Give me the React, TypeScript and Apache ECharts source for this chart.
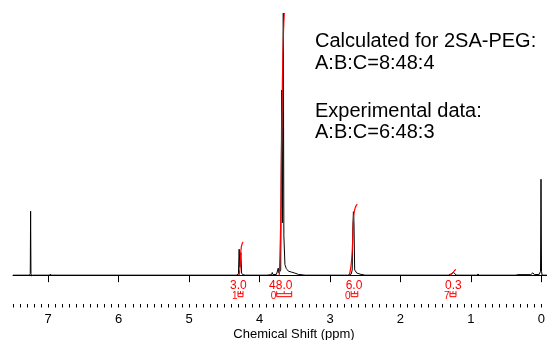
import React, { useEffect, useRef } from "react";
import * as echarts from "echarts";

// ---- data (ppm, relative intensity) ----
const baselineStart: [number, number][] = [[7.5, 0], [7.29, 0]];
const peakSolvent: [number, number][] = [[7.265, 0], [7.255, 0.6], [7.25, 24.4], [7.245, 0.6], [7.235, -0.3], [7.22, 0], [6.98, 0], [6.97, 0.4], [6.96, 0]];
const peakA: [number, number][] = [[4.33, 0], [4.30, 0.4], [4.29, 9.9], [4.28, 3], [4.266, 8.6], [4.255, 0.8], [4.24, 0.2], [4.2, 0]];
const peakB: [number, number][] = [[3.9, 0], [3.83, 0.2], [3.82, 1], [3.81, 0.2], [3.76, 0.3], [3.735, 2.7], [3.725, 0.8], [3.7, 2], [3.686, 70.6], [3.675, 20], [3.663, 100], [3.655, 15], [3.64, 4], [3.62, 2.5], [3.61, 2.2], [3.59, 1.5], [3.55, 1.2], [3.5, 0.8], [3.45, 0.3], [3.35, 0]];
const peakC: [number, number][] = [[2.75, 0], [2.7, 0.4], [2.685, 2], [2.675, 19], [2.668, 24.2], [2.66, 20], [2.65, 2], [2.62, 0.8], [2.56, 0.3], [2.5, 0]];
const peakD: [number, number][] = [[1.32, 0], [1.27, 0.6], [1.25, 1.2], [1.23, 0.5], [1.2, 0]];
const peakTMS: [number, number][] = [[0.92, 0], [0.9, 0.4], [0.88, 0], [0.36, 0], [0.34, 0.2], [0.15, 0.2], [0.12, 0.9], [0.1, 0.2], [0.03, 0.3], [0.012, 1.5], [0.005, 36.6], [-0.002, 1.5], [-0.01, 0], [-0.08, 0]];

const integralA: [number, number][] = [[4.292, 0], [4.28, 2], [4.27, 7], [4.26, 10.5], [4.245, 12.2], [4.231, 12.7]];
const integralB: [number, number][] = [[3.72, 0], [3.7, 20], [3.69, 45], [3.675, 75], [3.66, 93], [3.649, 100]];
const integralC: [number, number][] = [[2.726, 0], [2.7, 4], [2.68, 12], [2.665, 22], [2.645, 25.5], [2.613, 27.1]];
const integralD: [number, number][] = [[1.297, 0], [1.26, 0.8], [1.23, 1.8], [1.212, 2.2]];

const integralValues = ["3.0", "48.0", "6.0", "0.3"];
const integralLabelAt = [4.3, 3.7, 2.66, 1.25];
const integralFrom = [4.306, 3.757, 2.7, 1.297];
const integralTo = [4.235, 3.544, 2.606, 1.212];
const bracketMarks = ["1", "0", "0", "7"];

const majorTicks = [0, 1, 2, 3, 4, 5, 6, 7];
const minorTicks = Array.from({ length: 76 }, (_, i) => i / 10);

const annotationLines = ["Calculated for 2SA-PEG:", "A:B:C=8:48:4", "Experimental data:", "A:B:C=6:48:3"];

const RED = "#ff0000";
const FONT = "'Liberation Sans', Arial, sans-serif";

export default function App() {
  const ref = useRef<HTMLDivElement>(null);
  useEffect(() => {
    if (!ref.current) return;
    const chart = echarts.init(ref.current, undefined, { renderer: "svg" });
    const spectrum = [...baselineStart, ...peakSolvent, ...peakA, ...peakB, ...peakC, ...peakD, ...peakTMS];
    const integrals = [integralA, integralB, integralC, integralD];
    const annotY = [30, 52, 100, 121];
    chart.setOption({
      animation: false,
      textStyle: { fontFamily: FONT },
      grid: { left: 13, right: 0, top: 13, bottom: 36, containLabel: false, outerBoundsMode: "none" },
      xAxis: [
        {
          type: "value",
          inverse: true,
          min: -0.08,
          max: 7.5,
          position: "bottom",
          splitLine: { show: false },
          axisLine: { show: true, lineStyle: { color: "#000", width: 1 } },
          axisTick: { show: true, customValues: majorTicks, length: 7, lineStyle: { color: "#000" } },
          axisLabel: { show: true, customValues: majorTicks, color: "#000", fontSize: 13, margin: 8, fontFamily: FONT },
          name: "Chemical Shift (ppm)",
          nameLocation: "middle",
          nameGap: 23,
          nameMoveOverlap: false,
          nameTextStyle: { color: "#000", fontSize: 13, fontFamily: FONT, padding: [0, 0, 0, 28] },
        },
        {
          type: "value",
          inverse: true,
          min: -0.08,
          max: 7.5,
          position: "bottom",
          offset: 0,
          splitLine: { show: false },
          axisLine: { show: false },
          axisTick: { show: true, customValues: minorTicks, length: 3.5, lineStyle: { color: "#000" } },
          axisLabel: { show: false },
        },
      ],
      yAxis: { type: "value", min: -11, max: 100, show: false, splitLine: { show: false } },
      series: [
        {
          type: "line",
          data: spectrum,
          showSymbol: false,
          symbol: "none",
          lineStyle: { color: "#000", width: 1 },
          z: 2,
        },
        ...integrals.map((d) => ({
          type: "line",
          data: d,
          showSymbol: false,
          symbol: "none",
          smooth: true,
          lineStyle: { color: RED, width: 1.2 },
          z: 3,
        })),
        {
          type: "custom",
          clip: false,
          encode: { x: [0, 1, 2], y: 3 },
          data: integralLabelAt.map((p, i) => [p, integralFrom[i], integralTo[i], i]),
          renderItem: (params: any, api: any) => {
            const i = api.value(3);
            const c = api.coord([api.value(0), 0]);
            const a = api.coord([api.value(1), 0]);
            const b = api.coord([api.value(2), 0]);
            const y0 = c[1];
            const m = (a[0] + b[0]) / 2;
            const ls = { stroke: RED, lineWidth: 1, fill: "none" };
            return {
              type: "group",
              children: [
                { type: "text", x: c[0], y: y0 + 9.5, style: { text: integralValues[i], fill: RED, font: `12px ${FONT}`, align: "center", verticalAlign: "middle" } },
                { type: "text", x: a[0] - 0.5, y: y0 + 20.5, style: { text: bracketMarks[i], fill: RED, font: `10px ${FONT}`, align: "right", verticalAlign: "middle" } },
                { type: "polyline", shape: { points: [[a[0], y0 + 16], [a[0], y0 + 21.5], [b[0], y0 + 21.5], [b[0], y0 + 16]] }, style: ls },
                { type: "line", shape: { x1: a[0], y1: y0 + 18.5, x2: b[0], y2: y0 + 18.5 }, style: ls },
                { type: "line", shape: { x1: m, y1: y0 + 16, x2: m, y2: y0 + 18.5 }, style: ls },
              ],
            };
          },
          z: 4,
        },
      ],
      graphic: annotationLines.map((t, i) => ({
        type: "text",
        left: 315,
        top: annotY[i],
        style: { text: t, fill: "#000", font: `20px ${FONT}` },
      })),
    });
    return () => chart.dispose();
  }, []);
  return <div ref={ref} style={{ position: "fixed", left: 0, top: 0, width: 547, height: 340 }} />;
}
